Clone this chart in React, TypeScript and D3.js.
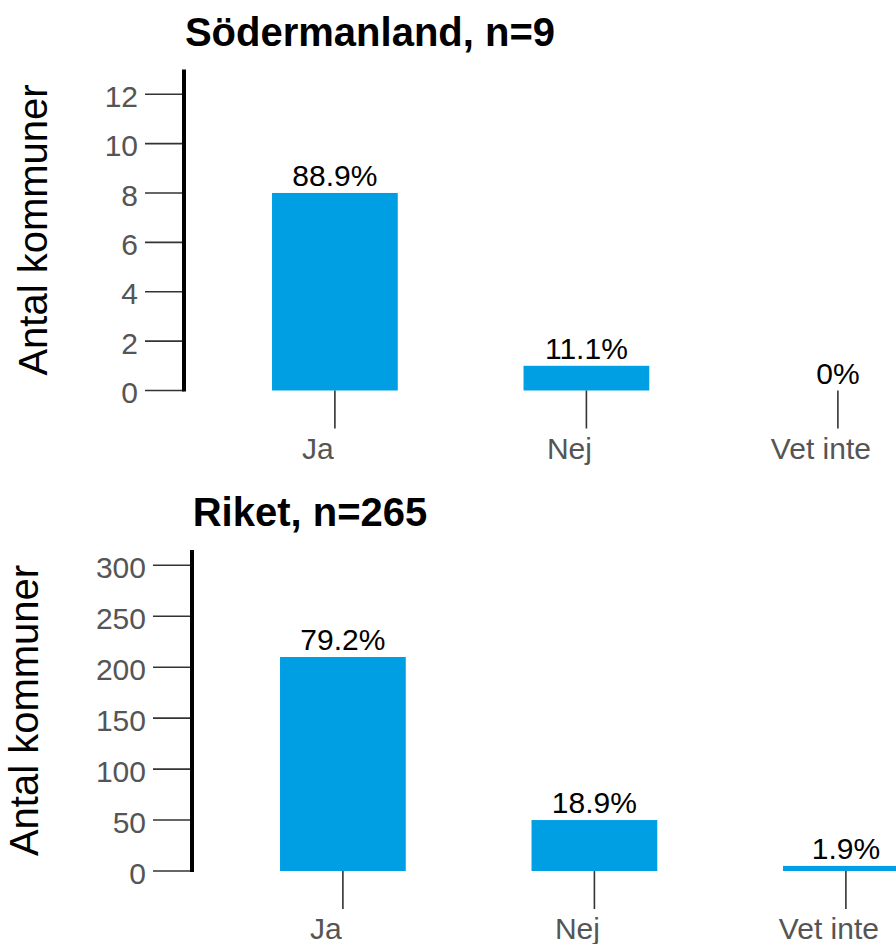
import React from "react";
import * as d3 from "d3";

// answer categories shared by both panels
const categories = ["Ja", "Nej", "Vet inte"];

// Södermanland
const sodTitle = "Södermanland, n=9";
const sodCounts = [8, 1, 0];
const sodPercents = ["88.9%", "11.1%", "0%"];
const sodTicks = [0, 2, 4, 6, 8, 10, 12];

// Riket
const riketTitle = "Riket, n=265";
const riketCounts = [210, 50, 5];
const riketPercents = ["79.2%", "18.9%", "1.9%"];
const riketTicks = [0, 50, 100, 150, 200, 250, 300];

const yLabel = "Antal kommuner";
const FONT = "'Liberation Sans', Arial, Helvetica, sans-serif";
const BAR = "#009fe3";

function Panel({ title, counts, percents, ticks, yMax, axisX, base, titleX, labelX }) {
  const top = base - 321;
  const y = d3.scaleLinear().domain([0, yMax]).range([base, top]);
  const step = 251.5;
  const x = d3
    .scaleBand()
    .domain(categories)
    .range([axisX, axisX + step * 3.2])
    .paddingInner(0.5)
    .paddingOuter(0.35);

  return (
    <g>
      <text x={titleX} y={top - 24} textAnchor="middle" fontSize={40} fontWeight="bold" fill="#000">
        {title}
      </text>
      <text
        transform={`translate(${labelX},${(top + base) / 2}) rotate(-90)`}
        textAnchor="middle"
        fontSize={40}
        fill="#000"
      >
        {yLabel}
      </text>

      {ticks.map((t) => (
        <g key={t}>
          <line x1={axisX - 39} x2={axisX} y1={y(t)} y2={y(t)} stroke="#333" strokeWidth={1.6} />
          <text x={axisX - 46} y={y(t)} dy="0.42em" textAnchor="end" fontSize={30} fill="#555">
            {t}
          </text>
        </g>
      ))}
      <line x1={axisX} x2={axisX} y1={top} y2={base + 1} stroke="#000" strokeWidth={4} />

      {categories.map((c, i) => {
        const cx = x(c) + x.bandwidth() / 2;
        return (
          <g key={c}>
            <rect x={x(c)} y={y(counts[i])} width={x.bandwidth()} height={base - y(counts[i])} fill={BAR} />
            <text x={cx} y={y(counts[i]) - 7} textAnchor="middle" fontSize={30} fill="#000">
              {percents[i]}
            </text>
            <line x1={cx} x2={cx} y1={base} y2={base + 38} stroke="#333" strokeWidth={1.6} />
            {/* category labels sit a little left of their tick in the original */}
            <text x={cx - 17} y={base + 68} textAnchor="middle" fontSize={30} fill="#555">
              {c}
            </text>
          </g>
        );
      })}
    </g>
  );
}

export default function App() {
  return (
    <svg
      width={896}
      height={944}
      style={{ position: "absolute", left: 0, top: 0, background: "#fff", fontFamily: FONT }}
    >
      <Panel
        title={sodTitle}
        counts={sodCounts}
        percents={sodPercents}
        ticks={sodTicks}
        yMax={13}
        axisX={184}
        base={390.5}
        titleX={370}
        labelX={47}
      />
      <Panel
        title={riketTitle}
        counts={riketCounts}
        percents={riketPercents}
        ticks={riketTicks}
        yMax={315}
        axisX={192}
        base={871}
        titleX={310}
        labelX={38}
      />
    </svg>
  );
}
